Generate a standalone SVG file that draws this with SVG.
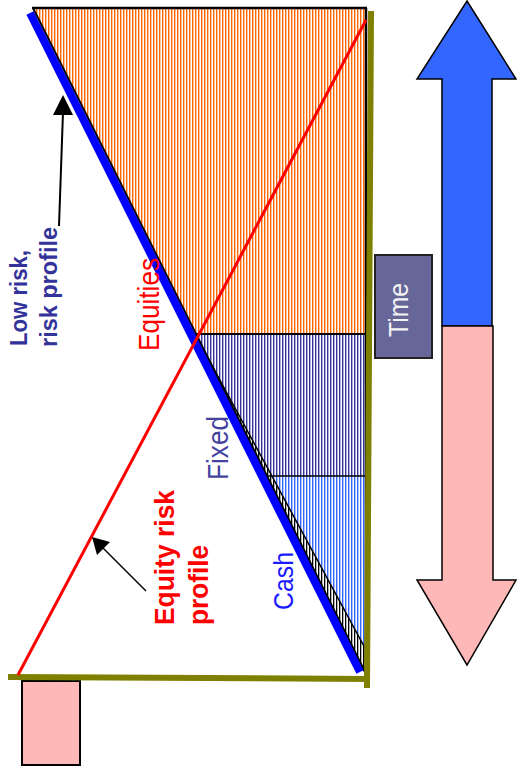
<svg xmlns="http://www.w3.org/2000/svg" width="517" height="775" viewBox="0 0 517 775">
<defs>
<pattern id="hOrange" patternUnits="userSpaceOnUse" width="3" height="10"><rect x="0" y="0" width="3" height="10" fill="#fff"/><rect x="0" y="0" width="1.4" height="10" fill="#ff6600"/></pattern>
<pattern id="hNavy" patternUnits="userSpaceOnUse" width="3" height="10"><rect x="0" y="0" width="3" height="10" fill="#fff"/><rect x="0" y="0" width="1.4" height="10" fill="#333399"/></pattern>
<pattern id="hBlue" patternUnits="userSpaceOnUse" width="3" height="10"><rect x="0" y="0" width="3" height="10" fill="#fff"/><rect x="0" y="0" width="1.4" height="10" fill="#3366ff"/></pattern>
<pattern id="hBlack" patternUnits="userSpaceOnUse" width="3" height="10"><rect x="0" y="0" width="3" height="10" fill="#fff"/><rect x="0" y="0" width="1.3" height="10" fill="#000"/></pattern>
</defs>
<style>
.lbl{font-family:"Liberation Sans",Arial,sans-serif;}
.b{font-weight:bold;}
.edge{stroke:#000;fill:none;}
.olive{stroke:#808000;stroke-width:6;fill:none;}
.arr{stroke:#000;stroke-width:1.5;stroke-linejoin:miter;}
</style>

<g id="pink-box"><rect x="22" y="681" width="58" height="84" fill="#ffb8b8" stroke="#000" stroke-width="2"/></g>

<g id="equities-zone"><polygon points="33,8 366,8 366,334 195,334" fill="url(#hOrange)"/></g>
<g id="fixed-zone"><polygon points="195,334 366,334 366,476 267,476" fill="url(#hNavy)"/></g>
<g id="cash-zone"><polygon points="267,476 366,476 366,676" fill="url(#hBlue)"/></g>
<g id="sliver"><polygon points="195,334 367,676 366,650" fill="url(#hBlack)" stroke="#000" stroke-width="1.5"/></g>

<g id="frame">
<line class="edge" x1="32" y1="8" x2="367" y2="8" stroke-width="2.5"/>
<line class="edge" x1="366" y1="8" x2="366" y2="676" stroke-width="2.5"/>
<line class="edge" x1="33" y1="8" x2="367" y2="676" stroke-width="2"/>
<line class="edge" x1="192" y1="334" x2="366" y2="334" stroke-width="2"/>
<line class="edge" x1="266" y1="476" x2="366" y2="476" stroke-width="1.5"/>
</g>

<g id="axes">
<line class="olive" x1="371" y1="11" x2="367" y2="688"/>
<line class="olive" x1="8" y1="677" x2="369" y2="679"/>
</g>

<g id="connectors">
<line id="low-risk-line" x1="30" y1="13" x2="360" y2="672" stroke="#0000ff" stroke-width="8"/>
<line id="equity-risk-line" x1="18" y1="675" x2="366" y2="20" stroke="#ff0000" stroke-width="3"/>
<line x1="59" y1="226" x2="63" y2="112" stroke="#000" stroke-width="2"/>
<polygon points="63,95 73,115 53,115" fill="#000"/>
<line x1="146" y1="591" x2="102" y2="547" stroke="#000" stroke-width="1.5"/>
<polygon points="92,537 110,542 97,555" fill="#000"/>
</g>

<g id="label-low-risk">
<text class="lbl b" font-size="23" fill="#333399" transform="translate(27,346) rotate(-90)" textLength="96" lengthAdjust="spacingAndGlyphs">Low risk,</text>
<text class="lbl b" font-size="23" fill="#333399" transform="translate(57,347) rotate(-90)" textLength="120" lengthAdjust="spacingAndGlyphs">risk profile</text>
</g>
<g id="label-equities"><text class="lbl" font-size="30" fill="#ff0000" transform="translate(159,351) rotate(-90)" textLength="93" lengthAdjust="spacingAndGlyphs">Equities</text></g>
<g id="label-fixed"><text class="lbl" font-size="30" fill="#4444a0" transform="translate(228,480) rotate(-90)" textLength="64" lengthAdjust="spacingAndGlyphs">Fixed</text></g>
<g id="label-cash"><text class="lbl" font-size="28" fill="#1a1aff" transform="translate(293,610) rotate(-90)" textLength="58" lengthAdjust="spacingAndGlyphs">Cash</text></g>
<g id="label-equity-risk">
<text class="lbl b" font-size="27" fill="#ff0000" transform="translate(174,625) rotate(-90)" textLength="135" lengthAdjust="spacingAndGlyphs">Equity risk</text>
<text class="lbl b" font-size="27" fill="#ff0000" transform="translate(208,625) rotate(-90)" textLength="80" lengthAdjust="spacingAndGlyphs">profile</text>
</g>

<g id="time-box">
<rect x="375" y="255" width="57" height="103" fill="#666699" stroke="#222" stroke-width="2"/>
<text class="lbl" font-size="27" fill="#f2f2f2" transform="translate(408,337) rotate(-90)" textLength="54" lengthAdjust="spacingAndGlyphs">Time</text>
</g>

<g id="arrow-up"><polygon class="arr" points="467,1 516,79 492,79 492,326 442,326 442,79 417,79" fill="#3366ff"/></g>
<g id="arrow-down"><polygon class="arr" points="442,326 493,326 493,580 516,580 467,665 417,580 442,580" fill="#ffb8b8"/></g>
</svg>
